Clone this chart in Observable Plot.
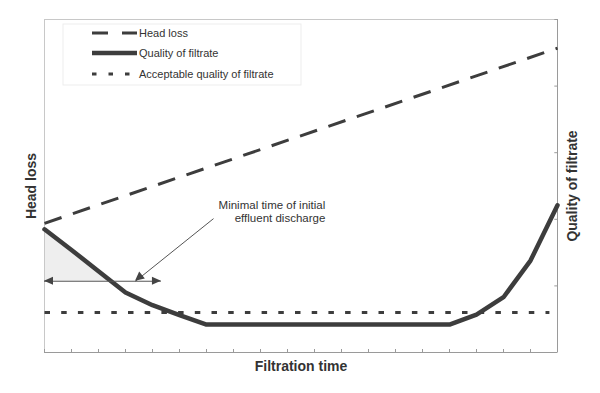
<!DOCTYPE html>
<html><head><meta charset="utf-8">
<script src="https://cdn.jsdelivr.net/npm/d3@7"></script>
<script src="https://cdn.jsdelivr.net/npm/@observablehq/plot@0.6"></script>
<style>
body{margin:0;background:#fff}
svg{font-family:"Liberation Sans",Arial,Helvetica,sans-serif}
</style>
</head><body><div id="chart"></div>
<script>
// ---- data ----
const time = [0,1,2,3,4,5,6,7,8,9,10,11,12,13,14,15,16,17,18,19];
const quality = [1.85,1.54,1.22,0.90,0.71,0.56,0.42,0.42,0.42,0.42,0.42,0.42,0.42,0.42,0.42,0.42,0.57,0.83,1.38,2.21];
const headLossTime = [0, 19];
const headLoss = [1.94, 4.57];
const acceptableTime = [0, 18.7];
const acceptableLevel = 0.6;
const dischargeLevel = 1.07;
const dischargeEnd = 4.33;
const pointerFrom = [6.26, 2.01];
const pointerTo = [3.37, 1.07];
const noteX = 10.4, noteY = 2.12;
const noteText = "Minimal time of initial\neffluent discharge";
const rightTicks = [0,1,2,3,4,5];
const legendLabels = ["Head loss", "Quality of filtrate", "Acceptable quality of filtrate"];
const ink = "#3d3d3d";

// ---- derived tables ----
const qualityData = time.map((t,i)=>({t, q: quality[i]}));
const headData = headLossTime.map((t,i)=>({t, h: headLoss[i]}));
const acceptData = acceptableTime.map(t=>({t, a: acceptableLevel}));
// shaded region: quality above discharge level near start
const shade = [];
for (let i=0;i<time.length-1;i++){
  const a = quality[i], b = quality[i+1];
  if (a >= dischargeLevel) shade.push({t: time[i], q: a});
  if (a >= dischargeLevel && b < dischargeLevel){
    const f = (a - dischargeLevel)/(a - b);
    shade.push({t: time[i] + f*(time[i+1]-time[i]), q: dischargeLevel});
    break;
  }
}

const chart = Plot.plot({
  width: 600, height: 393,
  marginLeft: 44, marginRight: 43, marginTop: 19, marginBottom: 41,
  x: {domain: [0, 19], axis: null},
  y: {domain: [0, 5], axis: null},
  marks: [
    Plot.areaY(shade, {x: "t", y1: dischargeLevel, y2: "q", fill: "#eeeeee"}),
    Plot.frame({stroke: "#c8c8c8"}),
    Plot.ruleX([19], {stroke: "#9a9a9a"}),
    Plot.ruleY([0], {stroke: "#9a9a9a"}),
    Plot.ruleX(time, {x: d=>d, y1: 0, y2: 0.045, stroke: "#9a9a9a"}),
    Plot.ruleY(rightTicks, {y: d=>d, x1: 18.9, x2: 19, stroke: "#9a9a9a"}),
    Plot.line(acceptData, {x: "t", y: "a", stroke: ink, strokeWidth: 3, strokeLinecap: "butt", strokeDasharray: "5.5,11.2"}),
    Plot.line(headData, {x: "t", y: "h", stroke: ink, strokeWidth: 3, strokeLinecap: "butt", strokeDasharray: "18,12"}),
    Plot.line(qualityData, {x: "t", y: "q", stroke: ink, strokeWidth: 4.5, strokeLinejoin: "round"}),
    Plot.ruleY([dischargeLevel], {x1: 0, x2: dischargeEnd, stroke: "#555", strokeWidth: 1}),
    Plot.link([{}], {x1: pointerFrom[0], y1: pointerFrom[1], x2: pointerTo[0], y2: pointerTo[1], stroke: "#555", strokeWidth: 1}),
    Plot.text([noteText], {x: noteX, y: noteY, textAnchor: "end", lineAnchor: "middle", fontSize: 11.5, lineHeight: 1.15, fill: "#333"}),
    Plot.text(["Head loss"], {frameAnchor: "left", dx: -13, rotate: -90, textAnchor: "middle", lineAnchor: "middle", fontSize: 14, fontWeight: "bold", fill: "#333"}),
    Plot.text(["Quality of filtrate"], {frameAnchor: "right", dx: 15, rotate: -90, textAnchor: "middle", lineAnchor: "middle", fontSize: 14, fontWeight: "bold", fill: "#333"}),
    Plot.text(["Filtration time"], {frameAnchor: "bottom", dy: 14, lineAnchor: "middle", fontSize: 14, fontWeight: "bold", fill: "#333"})
  ]
});

// arrowheads via the chart's scales
const sx = chart.scale("x"), sy = chart.scale("y");
const svg = d3.select(chart);
function head(tipX, tipY, fromX, fromY, len, half){
  const dx = tipX - fromX, dy = tipY - fromY, L = Math.hypot(dx, dy);
  const ux = dx/L, uy = dy/L;
  const bx = tipX - ux*len, by = tipY - uy*len;
  svg.append("path")
    .attr("d", `M${tipX},${tipY}L${bx - uy*half},${by + ux*half}L${bx + uy*half},${by - ux*half}Z`)
    .attr("fill", "#444");
}
const yl = sy.apply(dischargeLevel);
head(sx.apply(0), yl, sx.apply(1), yl, 9, 4);
head(sx.apply(dischargeEnd), yl, sx.apply(0), yl, 9, 4);
head(sx.apply(pointerTo[0]), sy.apply(pointerTo[1]), sx.apply(pointerFrom[0]), sy.apply(pointerFrom[1]), 9, 4.5);

// legend inside the plot area
const lg = svg.append("g").attr("transform", "translate(63,24)");
lg.append("rect").attr("width", 238).attr("height", 61).attr("fill", "none").attr("stroke", "#ededed");
const rows = [9, 29, 50];
const styles = [
  {w: 3, dash: "16,14"},
  {w: 4.5, dash: null},
  {w: 3, dash: "4.5,12"}
];
legendLabels.forEach((lab, i) => {
  const g = lg.append("g").attr("transform", `translate(0,${rows[i]})`);
  const ln = g.append("line").attr("x1", 29).attr("x2", 74).attr("y1", 0).attr("y2", 0)
    .attr("stroke", ink).attr("stroke-width", styles[i].w).attr("stroke-linecap", "butt");
  if (styles[i].dash) ln.attr("stroke-dasharray", styles[i].dash);
  g.append("text").attr("x", 76).attr("y", 0).attr("dy", "0.35em").attr("text-anchor", "start")
    .attr("font-size", 11).attr("fill", "#333").text(lab);
});

document.getElementById("chart").appendChild(chart);
</script>
</body></html>
